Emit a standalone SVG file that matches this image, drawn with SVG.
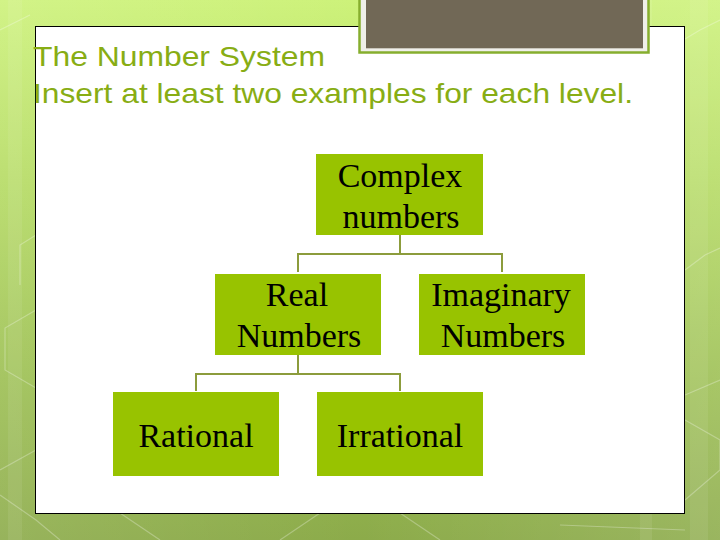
<svg xmlns="http://www.w3.org/2000/svg" width="720" height="540" viewBox="0 0 720 540">
  <defs>
    <linearGradient id="bg" x1="0" y1="0" x2="0" y2="1">
      <stop offset="0" stop-color="#cdf27a"/>
      <stop offset="0.35" stop-color="#b4da62"/>
      <stop offset="0.7" stop-color="#9cbf52"/>
      <stop offset="1" stop-color="#8cab4a"/>
    </linearGradient>
    <linearGradient id="shade" x1="0" y1="0" x2="1" y2="0">
      <stop offset="0" stop-color="#ffffff" stop-opacity="0.10"/>
      <stop offset="0.5" stop-color="#ffffff" stop-opacity="0"/>
      <stop offset="1" stop-color="#ffffff" stop-opacity="0.12"/>
    </linearGradient>
  </defs>
  <style>
    .node rect { fill: #98c300; }
    .node text { font-family: "Liberation Serif", "Times New Roman", serif; font-size: 34px; fill: #000000; text-anchor: middle; }
    .title { font-family: "Liberation Sans", Arial, sans-serif; font-size: 28px; fill: #88ad14; }
    .conn path { fill: none; stroke: #8c9c3c; stroke-width: 2; }
    .hex { fill: none; stroke: #ffffff; stroke-opacity: 0.28; stroke-width: 1.2; }
  </style>

  <!-- background -->
  <rect x="0" y="0" width="720" height="540" fill="url(#bg)"/>
  <rect x="0" y="0" width="720" height="540" fill="url(#shade)"/>
  <rect x="8" y="0" width="14" height="540" fill="#ffffff" opacity="0.07"/>
  <rect x="640" y="0" width="12" height="540" fill="#ffffff" opacity="0.08"/>
  <rect x="690" y="0" width="18" height="540" fill="#ffffff" opacity="0.07"/>
  <g class="hex">
    <polyline points="36,235 20,245 20,285"/>
    <polyline points="36,310 5,328 5,370 36,388"/>
    <polyline points="0,470 36,450"/>
    <polyline points="0,495 36,520 60,540"/>
    <polyline points="120,513 160,540"/>
    <polyline points="280,540 320,513"/>
    <polyline points="400,513 440,540"/>
    <polyline points="560,525 685,530"/>
    <polyline points="685,395 720,380"/>
    <polyline points="685,420 720,440 720,470 685,500"/>
    <polyline points="685,270 705,255 720,248"/>
    <polyline points="650,60 700,30 720,20"/>
    <polyline points="0,30 30,15"/>
  </g>

  <!-- white panel -->
  <rect x="35.5" y="26.5" width="649" height="487" fill="#ffffff" stroke="#000000" stroke-width="1"/>

  <!-- top decorative box -->
  <rect x="359.5" y="-5" width="289" height="57.5" fill="#efefe9" stroke="#86ae2e" stroke-width="2.5"/>
  <rect x="366" y="-5" width="277" height="53.3" fill="#716856"/>

  <!-- title -->
  <text class="title" x="33" y="65.5" textLength="292" lengthAdjust="spacingAndGlyphs">The Number System</text>
  <text class="title" x="33" y="103" textLength="600" lengthAdjust="spacingAndGlyphs">Insert at least two examples for each level.</text>

  <!-- connectors -->
  <g id="connectors" class="conn">
    <path d="M400,235 V254 H298 V272"/>
    <path d="M400,254 H502 V272"/>
    <path d="M298,355 V374 H196 V391"/>
    <path d="M298,374 H400 V391"/>
  </g>

  <!-- nodes -->
  <g id="complex" class="node">
    <rect x="316" y="154" width="167" height="81"/>
    <text x="400" y="187">Complex</text>
    <text x="401" y="228">numbers</text>
  </g>
  <g id="real" class="node">
    <rect x="215" y="274" width="166" height="81"/>
    <text x="297" y="306">Real</text>
    <text x="299" y="347">Numbers</text>
  </g>
  <g id="imaginary" class="node">
    <rect x="419" y="274" width="166" height="81"/>
    <text x="501" y="306">Imaginary</text>
    <text x="503" y="347">Numbers</text>
  </g>
  <g id="rational" class="node">
    <rect x="113" y="392" width="166" height="84"/>
    <text x="196" y="447">Rational</text>
  </g>
  <g id="irrational" class="node">
    <rect x="317" y="392" width="166" height="84"/>
    <text x="400" y="447">Irrational</text>
  </g>
</svg>
